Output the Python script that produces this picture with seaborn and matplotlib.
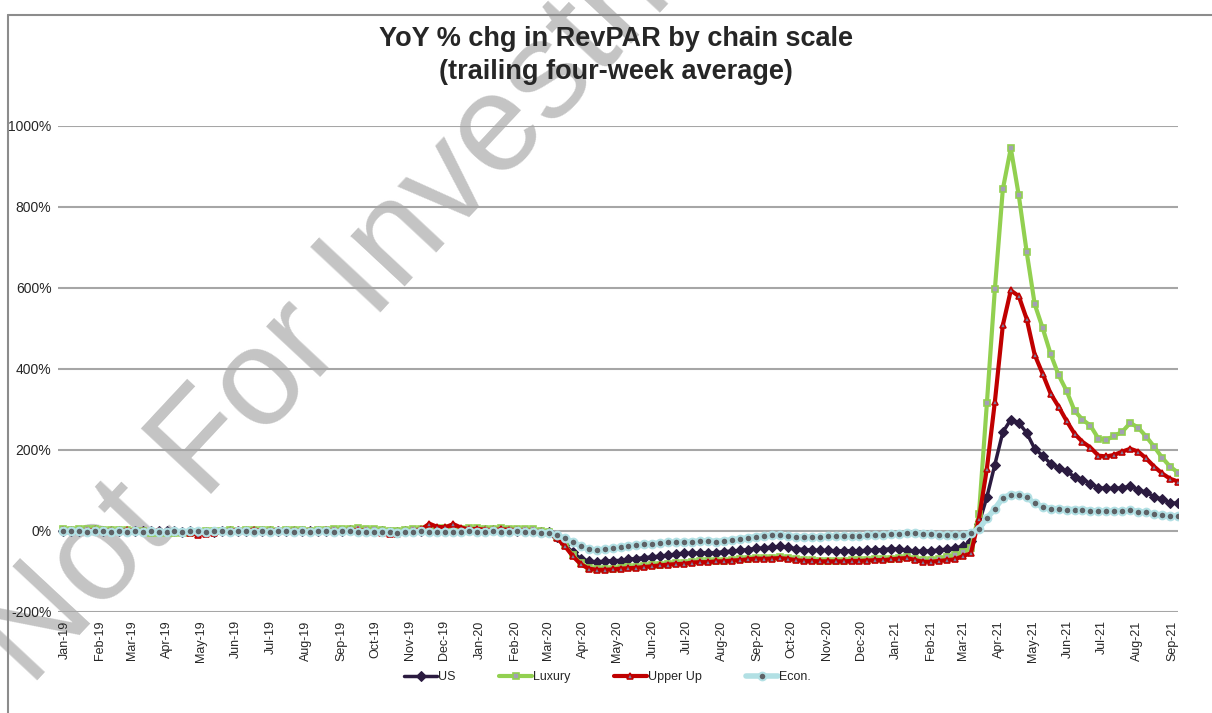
import numpy as np
import pandas as pd
import matplotlib
matplotlib.use("Agg")
import matplotlib.pyplot as plt
import matplotlib.dates as mdates
from matplotlib.lines import Line2D
import seaborn as sns

# ── Data (weekly, trailing 4-week avg, YoY % chg) ─────────────
weeks = pd.date_range("2019-01-05", periods=141, freq="7D")

us = [1, 0, 1, 0, 2, 1, 0, 1, 0, 1,
      0, -1, 0, -1, -1, -2, -1, -3, -3, -2,
      -1, 0, 1, 0, 1, 1, 0, 1, 0, 0,
      1, 0, 0, 1, 0, 1, 2, 2, 1, 0,
      -1, -2, -2, -1, 0, 1, 3, 2, 2, 3,
      2, 2, 1, 2, 2, 1, 1, 0, 0, -1,
      -2,
      -3, -15, -33, -53, -68, -75, -76, -75, -73, -73,
      -70, -68, -66, -64, -62, -60, -57, -55, -55, -54,
      -54, -54, -51, -50, -48, -46, -43, -42, -40, -38,
      -40, -44, -46, -47, -48, -48, -49, -49, -49, -49,
      -48, -47, -46, -44, -45, -47, -50, -50, -49, -47,
      -45, -42, -38, -25,
      18, 84, 164, 244, 275, 267, 242, 203, 186, 166,
      156, 147, 134, 127, 117, 107, 105, 105, 107, 110,
      102, 95, 85, 78, 70, 68]

luxury = [4, 3, 4, 5, 4, 3, 2, 3, 2, 1,
          -1, -4, -5, -6, -6, -5, -4, -2, -1, 0,
          1, 2, 1, 2, 3, 2, 2, 1, 2, 3,
          2, 1, 2, 3, 4, 5, 6, 7, 6, 4,
          2, 0, -1, 2, 4, 6, 7, 8, 8, 7,
          6, 8, 7, 5, 6, 7, 6, 6, 5, 4,
          0,
          -3, -16, -35, -60, -80, -91, -94, -94, -93, -91,
          -90, -89, -87, -85, -83, -81, -80, -79, -76, -75,
          -75, -73, -73, -71, -70, -68, -66, -67, -66, -65,
          -67, -70, -72, -72, -73, -73, -73, -73, -72, -72,
          -71, -70, -70, -68, -66, -65, -69, -72, -71, -68,
          -64, -60, -52, -42,
          41, 316, 597, 844, 945, 829, 688, 560, 501, 437,
          385, 346, 297, 275, 260, 228, 225, 235, 245, 267,
          255, 233, 208, 181, 159, 144]

upper_up = [2, 1, -1, 1, 3, 0, 1, -1, 2, 1,
            0, -1, 1, -2, -1, -3, -6, -9, -8, -5,
            -1, 1, 2, 1, 3, 1, 0, 2, 1, 0,
            1, 0, -1, 2, 0, 1, 3, 2, 0, -2,
            -5, -8, -7, -3, 1, 4, 18, 10, 9, 17,
            8, 4, 5, 3, 2, 4, 3, 2, 1, 0,
            -3,
            -4, -18, -37, -62, -82, -93, -96, -96, -95, -93,
            -92, -91, -89, -87, -85, -83, -82, -81, -78, -77,
            -77, -75, -75, -73, -72, -70, -68, -69, -68, -67,
            -69, -72, -74, -74, -75, -75, -75, -75, -74, -74,
            -73, -72, -72, -70, -68, -67, -72, -76, -76, -74,
            -72, -70, -62, -55,
            30, 154, 319, 508, 594, 580, 523, 435, 388, 339,
            307, 272, 240, 220, 206, 186, 184, 188, 196, 203,
            196, 179, 159, 142, 129, 122]

econ = [0, -1, -1, -2, -1, -1, -2, -1, -2, -1,
        -2, -1, -2, -2, -1, -2, -1, -1, -2, -1,
        -1, -2, -1, -1, -2, -1, -2, -1, -1, -2,
        -1, -2, -1, -1, -2, -1, -1, -2, -2, -3,
        -2, -3, -4, -3, -2, -1, -3, -3, -2, -2,
        -3, -1, -2, -2, -1, -2, -2, -1, -2, -3,
        -4,
        -5, -11, -18, -27, -37, -45, -48, -45, -43, -40,
        -37, -35, -33, -31, -30, -28, -28, -27, -26, -25,
        -24, -26, -24, -22, -19, -17, -14, -12, -11, -11,
        -12, -14, -15, -15, -14, -13, -13, -13, -13, -12,
        -11, -10, -9, -8, -7, -6, -6, -7, -8, -9,
        -9, -9, -9, -6,
        6, 31, 55, 82, 90, 90, 83, 68, 60, 55,
        55, 53, 53, 53, 50, 49, 49, 49, 49, 51,
        48, 46, 41, 39, 38, 36]

series_names = ["US", "Luxury", "Upper Up", "Econ."]
series_values = [us, luxury, upper_up, econ]

# ── Styles ─────────────────────────────
styles = {
    "US": dict(color="#2B1B40", marker="D", markersize=5, markerfacecolor="#2B1B40",
               markeredgecolor="#2B1B40", linewidth=2.5),
    "Luxury": dict(color="#92D050", marker="s", markersize=5, markerfacecolor="#A39FB5",
                   markeredgecolor="#92D050", markeredgewidth=1.2, linewidth=3),
    "Upper Up": dict(color="#C00000", marker="^", markersize=5, markerfacecolor="#7D7FA0",
                     markeredgecolor="#C00000", markeredgewidth=1.2, linewidth=3),
    "Econ.": dict(color="#B2E0E4", marker="o", markersize=5.5, markerfacecolor="#5E6266",
                  markeredgecolor="#B2E0E4", markeredgewidth=1.5, linewidth=4),
}

sns.set_style("white")
plt.rcParams["font.family"] = ["Liberation Sans", "DejaVu Sans"]

fig = plt.figure(figsize=(12.12, 7.13), dpi=100)
ax = fig.add_axes([0.0482, 0.1417, 0.9238, 0.6816])
ax.patch.set_alpha(0)

# watermark behind the chart
fig.text(0.025, 0.035, "Not For Investment Use", rotation=47, rotation_mode="anchor",
         ha="left", va="baseline", fontsize=100, color="#C4C4C4", zorder=-5)

for name, vals in zip(series_names, series_values):
    sns.lineplot(x=weeks, y=vals, ax=ax, label=name, **styles[name])

ax.set_xlim(pd.Timestamp("2019-01-01"), weeks[-1])
ax.set_ylim(-200, 1000)
ax.set_yticks(np.arange(-200, 1001, 200))
ax.yaxis.set_major_formatter(matplotlib.ticker.FuncFormatter(lambda v, _: f"{v:.0f}%"))
ax.grid(axis="y", color="#A6A6A6", linewidth=1.5)
ax.grid(axis="x", visible=False)
for s in ax.spines.values():
    s.set_visible(False)

ax.xaxis.set_major_locator(mdates.MonthLocator())
ax.xaxis.set_major_formatter(mdates.DateFormatter("%b-%y"))
ax.tick_params(axis="x", length=0, pad=6, labelsize=9)
ax.tick_params(axis="y", length=0, pad=5, labelsize=10)
for lbl in ax.get_xticklabels():
    lbl.set_rotation(90)
    lbl.set_ha("left")
ax.set_xlabel("")
ax.set_ylabel("")

ax.legend(loc="center", bbox_to_anchor=(0.5014, 0.05), bbox_transform=fig.transFigure,
          ncol=4, frameon=False, fontsize=9, handlelength=2.6, handletextpad=0.1,
          columnspacing=3.5)

fig.text(0.508, 0.922, "YoY % chg in RevPAR by chain scale\n(trailing four-week average)",
         ha="center", va="center", fontsize=19.5, fontweight="bold", linespacing=1.35)

# chart-area border (top and left)
fig.add_artist(Line2D([8 / 1212, 1.0], [1 - 15 / 713, 1 - 15 / 713], color="#8C8C8C",
                      linewidth=1.5, transform=fig.transFigure))
fig.add_artist(Line2D([8 / 1212, 8 / 1212], [0, 1 - 15 / 713], color="#8C8C8C",
                      linewidth=1.5, transform=fig.transFigure))

fig.savefig("out.png", dpi=100)
